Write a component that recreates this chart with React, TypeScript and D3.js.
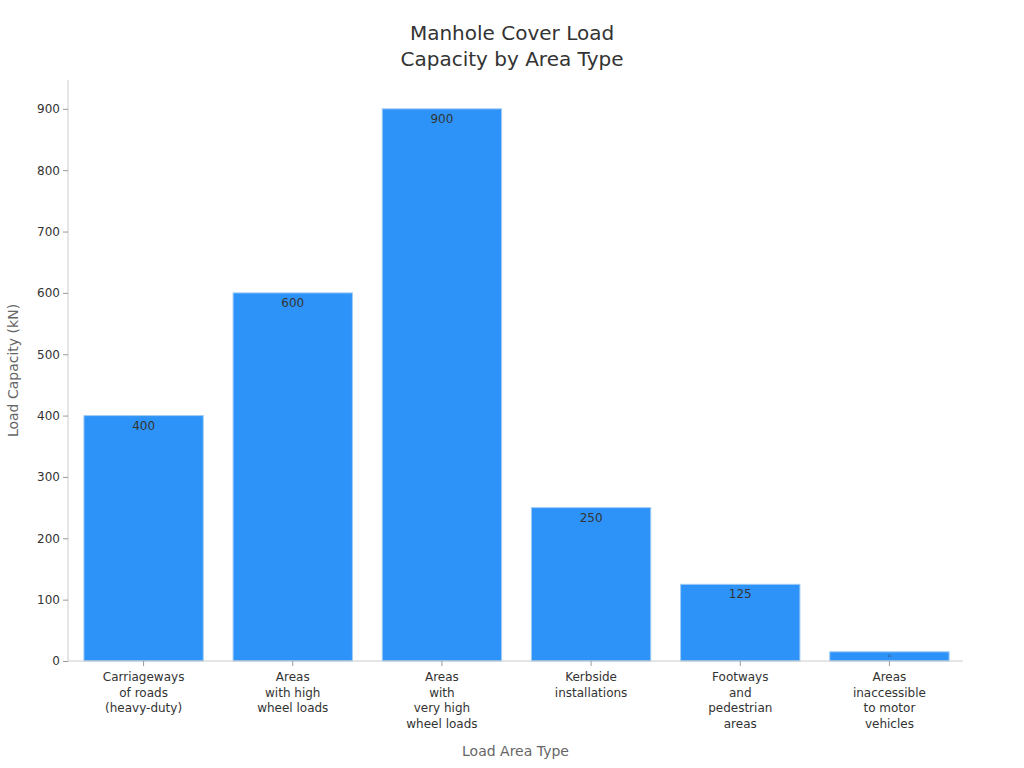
import React, { useEffect, useRef } from "react";
import * as d3 from "d3";

// area types (multi-line labels) and their load capacity in kN
const areaLabels: string[][] = [
  ["Carriageways", "of roads", "(heavy-duty)"],
  ["Areas", "with high", "wheel loads"],
  ["Areas", "with", "very high", "wheel loads"],
  ["Kerbside", "installations"],
  ["Footways", "and", "pedestrian", "areas"],
  ["Areas", "inaccessible", "to motor", "vehicles"],
];
const loadValues: number[] = [400, 600, 900, 250, 125, 15];
const yTicks: number[] = [0, 100, 200, 300, 400, 500, 600, 700, 800, 900];

const App: React.FC = () => {
  const svgRef = useRef<SVGSVGElement>(null);

  useEffect(() => {
    if (!svgRef.current) return;
    const width = 1024;
    const height = 768;
    const margin = { top: 80, right: 61, bottom: 107, left: 68 };
    const innerW = width - margin.left - margin.right;
    const innerH = height - margin.top - margin.bottom;

    const svg = d3.select(svgRef.current);
    svg.selectAll("*").remove();
    svg.attr("width", width).attr("height", height);

    const data = areaLabels.map((lines, i) => ({
      key: lines.join(" "),
      lines,
      value: loadValues[i],
    }));

    const g = svg
      .append("g")
      .attr("transform", `translate(${margin.left},${margin.top})`);

    const x = d3
      .scaleBand()
      .domain(data.map(d => d.key))
      .range([1, innerW + 1])
      .paddingInner(0.2)
      .paddingOuter(0.1);

    const y = d3.scaleLinear().domain([0, 947]).range([innerH, 0]);

    // BARS
    g.selectAll("rect.bar")
      .data(data)
      .enter()
      .append("rect")
      .attr("class", "bar")
      .attr("x", d => x(d.key)!)
      .attr("y", d => y(d.value))
      .attr("width", x.bandwidth())
      .attr("height", d => innerH - y(d.value))
      .attr("fill", "#2E93F8")
      .attr("stroke", "#9fcbf5")
      .attr("stroke-width", 1);

    // VALUE LABELS
    g.selectAll("text.val")
      .data(data)
      .enter()
      .append("text")
      .attr("class", "val")
      .attr("x", d => x(d.key)! + x.bandwidth() / 2)
      .attr("y", d => (d.value < 50 ? y(d.value) + 5 : y(d.value) + 14))
      .attr("text-anchor", "middle")
      .attr("fill", "#333")
      .style("font-size", d => (d.value < 50 ? "3px" : "12px"))
      .text(d => d.value);

    // Y AXIS
    const yAxis = g
      .append("g")
      .call(d3.axisLeft(y).tickValues(yTicks).tickSize(5).tickPadding(3));
    yAxis.select(".domain").attr("stroke", "#ccc").attr("d", `M0,0V${innerH}`);
    yAxis.selectAll(".tick line").attr("stroke", "#999");
    yAxis
      .selectAll(".tick text")
      .attr("fill", "#333")
      .style("font-size", "12px")
      .style("font-family", "DejaVu Sans");

    // X AXIS
    const xAxis = g
      .append("g")
      .attr("transform", `translate(0,${innerH})`)
      .call(d3.axisBottom(x).tickSize(5).tickFormat(() => ""));
    xAxis.select(".domain").attr("stroke", "#ccc").attr("d", `M0,0H${innerW}`);
    xAxis.selectAll(".tick line").attr("stroke", "#999");

    // category labels
    g.selectAll("text.cat")
      .data(data)
      .enter()
      .append("text")
      .attr("class", "cat")
      .attr("text-anchor", "middle")
      .attr("fill", "#333")
      .style("font-size", "12px")
      .attr("transform", d => `translate(${x(d.key)! + x.bandwidth() / 2},${innerH + 20})`)
      .selectAll("tspan")
      .data(d => d.lines)
      .enter()
      .append("tspan")
      .attr("x", 0)
      .attr("y", (_, i) => i * 15.5)
      .text(l => l);

    // AXIS TITLES
    svg
      .append("text")
      .attr("x", margin.left + innerW / 2)
      .attr("y", 756)
      .attr("text-anchor", "middle")
      .attr("fill", "#666")
      .style("font-size", "14px")
      .text("Load Area Type");

    svg
      .append("text")
      .attr("transform", `translate(18,${margin.top + innerH / 2}) rotate(-90)`)
      .attr("text-anchor", "middle")
      .attr("fill", "#666")
      .style("font-size", "14px")
      .text("Load Capacity (kN)");

    // TITLE
    const title = svg
      .append("text")
      .attr("text-anchor", "middle")
      .attr("fill", "#333")
      .style("font-size", "20px");
    title.append("tspan").attr("x", width / 2).attr("y", 40).text("Manhole Cover Load");
    title.append("tspan").attr("x", width / 2).attr("y", 66).text("Capacity by Area Type");
  }, []);

  return (
    <div style={{ position: "absolute", left: 0, top: 0, background: "#fff" }}>
      <svg ref={svgRef} style={{ fontFamily: "DejaVu Sans", display: "block" }}></svg>
    </div>
  );
};

export default App;
